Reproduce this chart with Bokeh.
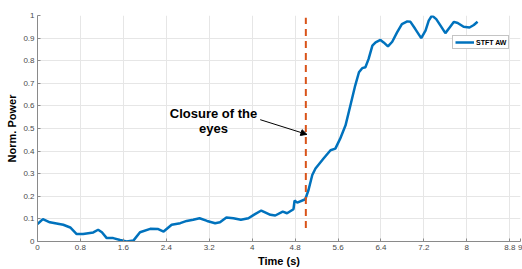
from bokeh.plotting import figure
from bokeh.models import (FixedTicker, Legend, LegendItem, Label, Arrow, NormalHead,
                          AllLabels)
from bokeh.embed import file_html
from bokeh.resources import INLINE

# ---- data ----
time_s = [0, 0.1, 0.23, 0.48, 0.61, 0.73, 0.85, 1.04, 1.13, 1.2, 1.29, 1.41, 1.54, 1.66,
          1.79, 1.91, 2.1, 2.25, 2.35, 2.5, 2.66, 2.78, 2.9, 3.02, 3.16, 3.31, 3.4, 3.52,
          3.65, 3.79, 3.93, 4.03, 4.17, 4.34, 4.43, 4.57, 4.65, 4.77, 4.79, 4.84, 4.99,
          5.05, 5.12, 5.18, 5.33, 5.46, 5.55, 5.64, 5.74, 5.83, 5.92, 5.99, 6.05, 6.11,
          6.17, 6.24, 6.3, 6.39, 6.45, 6.53, 6.61, 6.7, 6.79, 6.89, 6.95, 7.04, 7.15,
          7.23, 7.29, 7.35, 7.43, 7.51, 7.6, 7.68, 7.76, 7.83, 7.94, 8.05, 8.13, 8.2]
stft_aw = [0.077, 0.099, 0.085, 0.074, 0.062, 0.033, 0.033, 0.040, 0.052, 0.041, 0.015,
           0.015, 0.007, 0.0, 0.005, 0.041, 0.056, 0.055, 0.044, 0.074, 0.081, 0.091,
           0.096, 0.103, 0.091, 0.081, 0.085, 0.106, 0.103, 0.096, 0.103, 0.118, 0.137,
           0.118, 0.115, 0.132, 0.125, 0.143, 0.181, 0.172, 0.187, 0.228, 0.294, 0.323,
           0.367, 0.404, 0.411, 0.455, 0.514, 0.602, 0.690, 0.749, 0.767, 0.771, 0.808,
           0.867, 0.881, 0.892, 0.881, 0.863, 0.884, 0.925, 0.962, 0.974, 0.972, 0.94,
           0.90, 0.933, 0.977, 1.0, 0.984, 0.955, 0.922, 0.947, 0.972, 0.967, 0.950,
           0.947, 0.958, 0.972]
event_time = 5.0
event_span = [0.06, 0.99]
x_ticks = [0, 0.8, 1.6, 2.4, 3.2, 4, 4.8, 5.6, 6.4, 7.2, 8, 8.8, 9]
x_tick_labels = ["0", "0.8", "1.6", "2.4", "3.2", "4", "4.8", "5.6", "6.4", "7.2", "8", "8.8", "9"]
y_ticks = [0, 0.1, 0.2, 0.3, 0.4, 0.5, 0.6, 0.7, 0.8, 0.9, 1]
y_tick_labels = ["0", "0.1", "0.2", "0.3", "0.4", "0.5", "0.6", "0.7", "0.8", "0.9", "1"]
series_name = "STFT AW"
annotation_lines = ["Closure of the", "eyes"]

FONT = "Liberation Sans"

p = figure(width=522, height=269, output_backend="svg", toolbar_location=None,
           x_range=(0, 9), y_range=(0, 1),
           x_axis_label="Time (s)", y_axis_label="Norm. Power")
p.min_border_left = 37
p.min_border_right = 2
p.min_border_top = 15
p.min_border_bottom = 27
p.outline_line_color = None
p.background_fill_color = "white"
p.border_fill_color = "white"

for ax, ticks, labels in ((p.xaxis[0], x_ticks, x_tick_labels), (p.yaxis[0], y_ticks, y_tick_labels)):
    ax.ticker = FixedTicker(ticks=ticks)
    ax.major_label_overrides = {t: l for t, l in zip(ticks, labels)}
    ax.major_label_policy = AllLabels()
    ax.minor_tick_line_color = None
    ax.major_tick_in = 3
    ax.major_tick_out = 0
    ax.major_tick_line_color = "#8a8a8a"
    ax.axis_line_color = "#8a8a8a"
    ax.major_label_text_font = FONT
    ax.major_label_text_font_size = "8px"
    ax.major_label_text_color = "#4a4a4a"
    ax.axis_label_text_font = FONT
    ax.axis_label_text_font_size = "11px"
    ax.axis_label_text_font_style = "bold"
    ax.axis_label_text_color = "#000000"
    ax.major_label_standoff = 3
    ax.axis_label_standoff = 2

p.grid.grid_line_color = "#e6e6e6"
p.grid.grid_line_width = 1

line = p.line(time_s, stft_aw, line_color="#0072BD", line_width=2.5)

p.segment(x0=[event_time], y0=[event_span[0]], x1=[event_time], y1=[event_span[1]],
          line_color="#D95319", line_width=2, line_dash="7 5")

for i, txt in enumerate(annotation_lines):
    p.add_layout(Label(x=3.28, y=0.568 - 0.068 * i, text=txt, text_align="center",
                       text_baseline="middle", text_font=FONT, text_font_size="13px",
                       text_font_style="bold", text_color="black"))

p.add_layout(Arrow(x_start=4.15, y_start=0.539, x_end=event_time + 0.02, y_end=0.474,
                   line_color="black", line_width=1,
                   end=NormalHead(size=6, fill_color="black", line_color="black")))

legend = Legend(items=[LegendItem(label=series_name, renderers=[line])],
                location=(415, 192), orientation="vertical",
                label_text_font=FONT, label_text_font_size="7px",
                label_text_font_style="bold", label_text_color="black",
                glyph_width=19, glyph_height=8, label_height=8, label_standoff=2,
                padding=2, spacing=0, margin=0,
                border_line_color="#8a8a8a", border_line_width=1,
                background_fill_color="white", background_fill_alpha=1)
p.add_layout(legend)

open("out.html", "w").write(file_html(p, INLINE))
